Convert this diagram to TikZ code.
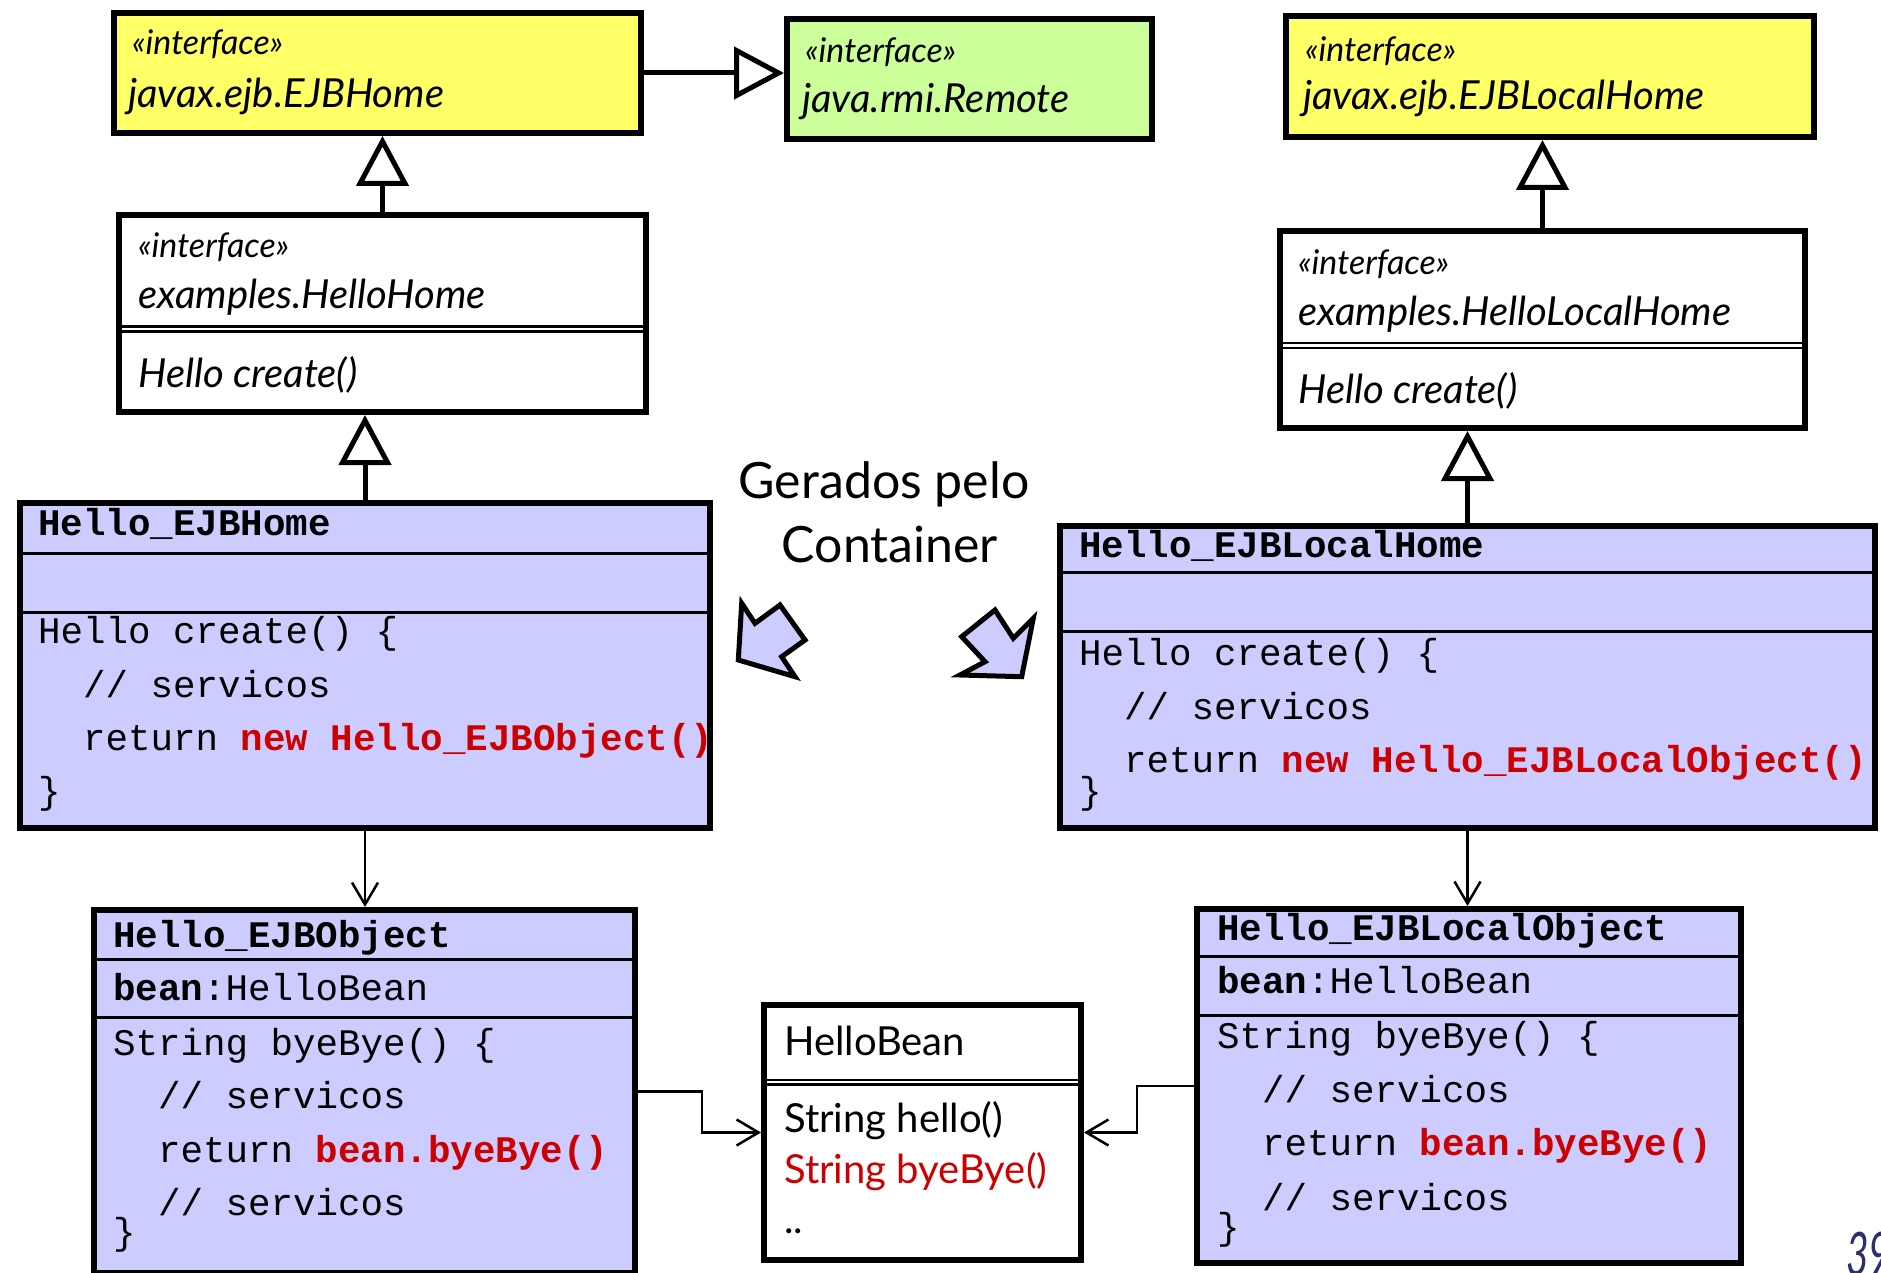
\documentclass[tikz,border=0pt]{standalone}
\usepackage{fontspec}
\usetikzlibrary{arrows.meta}
\newfontfamily\umlfont{Lato}
\newfontfamily\codefont{Liberation Mono}
\definecolor{ifyellow}{HTML}{FFFF66}
\definecolor{ifgreen}{HTML}{CCFF99}
\definecolor{genblue}{HTML}{CCCCFF}
\definecolor{codered}{HTML}{CC0000}
\definecolor{pagenum}{HTML}{2E2E6B}
\tikzset{
  umlbox/.style={draw, line width=6pt, inner sep=0pt, anchor=north west},
  sepline/.style={line width=3pt},
  dblline/.style={line width=2.5pt},
  stereotype/.style={font=\umlfont\itshape\fontsize{34}{40}\selectfont, anchor=base west, inner sep=0pt},
  clsname/.style={font=\umlfont\itshape\fontsize{40}{48}\selectfont, anchor=base west, inner sep=0pt},
  beantext/.style={font=\umlfont\fontsize{40}{48}\selectfont, anchor=base west, inner sep=0pt},
  codeline/.style={font=\codefont\fontsize{37.5}{45}\selectfont, anchor=base west, inner sep=0pt},
  genarrow/.style={line width=5pt, -{Triangle[fill=white, length=50pt, width=52pt]}},
  navarrow/.style={line width=2.5pt, -{Straight Barb[length=22pt, width=26pt]}},
  fatarrow/.style={draw, fill=genblue, line width=5pt, line join=miter},
}
\begin{document}
\begin{tikzpicture}[x=1pt, y=-1pt]
\useasboundingbox (0,0) rectangle (1881,1273);

% ---- interfaces of the EJB API ----
\node[umlbox, fill=ifyellow, minimum width=527pt, minimum height=120pt] (ejbhome) at (111,10) {};
\node[umlbox, fill=ifgreen, minimum width=365pt, minimum height=120pt] (remote) at (784,16) {};
\node[umlbox, fill=ifyellow, minimum width=528pt, minimum height=121pt] (ejblocalhome) at (1283,13) {};

% ---- application home interfaces ----
\node[umlbox, fill=white, minimum width=527pt, minimum height=197pt] (hellohome) at (116,212) {};
\draw[dblline] (hellohome.west |- 0,326.5) -- (hellohome.east |- 0,326.5);
\draw[dblline] (hellohome.west |- 0,331.5) -- (hellohome.east |- 0,331.5);
\node[umlbox, fill=white, minimum width=525pt, minimum height=197pt] (hellolocalhome) at (1277,228) {};
\draw[dblline] (hellolocalhome.west |- 0,343) -- (hellolocalhome.east |- 0,343);
\draw[dblline] (hellolocalhome.west |- 0,348) -- (hellolocalhome.east |- 0,348);

% ---- container generated classes ----
\node[umlbox, fill=genblue, minimum width=690pt, minimum height=325pt] (ejbhomeimpl) at (17,500) {};
\draw[sepline] (ejbhomeimpl.west |- 0,553) -- (ejbhomeimpl.east |- 0,553);
\draw[sepline] (ejbhomeimpl.west |- 0,612) -- (ejbhomeimpl.east |- 0,612);
\node[umlbox, fill=genblue, minimum width=815pt, minimum height=302pt] (ejblocalhomeimpl) at (1057,523) {};
\draw[sepline] (ejblocalhomeimpl.west |- 0,572) -- (ejblocalhomeimpl.east |- 0,572);
\draw[sepline] (ejblocalhomeimpl.west |- 0,631) -- (ejblocalhomeimpl.east |- 0,631);
\node[umlbox, fill=genblue, minimum width=541pt, minimum height=363pt] (ejbobj) at (91,907) {};
\draw[sepline] (ejbobj.west |- 0,959) -- (ejbobj.east |- 0,959);
\draw[sepline] (ejbobj.west |- 0,1017) -- (ejbobj.east |- 0,1017);
\node[umlbox, fill=genblue, minimum width=544pt, minimum height=354pt] (ejblocalobj) at (1194,906) {};
\draw[sepline] (ejblocalobj.west |- 0,956) -- (ejblocalobj.east |- 0,956);
\draw[sepline] (ejblocalobj.west |- 0,1015) -- (ejblocalobj.east |- 0,1015);

% ---- bean class ----
\node[umlbox, fill=white, minimum width=317pt, minimum height=255pt] (bean) at (761,1002) {};
\draw[dblline] (bean.west |- 0,1080) -- (bean.east |- 0,1080);
\draw[dblline] (bean.west |- 0,1084.5) -- (bean.east |- 0,1084.5);

% ---- generalizations ----
\draw[genarrow] (ejbhome.east) -- (ejbhome.east -| remote.west);
\draw[genarrow] (hellohome.north) -- (hellohome.north |- ejbhome.south);
\draw[genarrow] (hellolocalhome.north) -- (hellolocalhome.north |- ejblocalhome.south);
\draw[genarrow] (ejbhomeimpl.north) -- (ejbhomeimpl.north |- hellohome.south);
\draw[genarrow] (ejblocalhomeimpl.north) -- (ejblocalhomeimpl.north |- hellolocalhome.south);

% ---- navigations ----
\draw[navarrow] (ejbhomeimpl.south) -- (ejbhomeimpl.south |- ejbobj.north);
\draw[navarrow] (ejblocalhomeimpl.south) -- (ejblocalhomeimpl.south |- ejblocalobj.north);
\draw[navarrow] (ejbobj.east) -- ++(64,0) |- (bean.west);
\draw[navarrow] (ejblocalobj.west) -- ++(-57,0) |- (bean.east);

% ---- interface labels ----
\node[stereotype] (s1) at (132,55) {«interface»};
\node[clsname] (n1) at (128,108) {javax.ejb.EJBHome};
\node[stereotype] (s2) at (805,63) {«interface»};
\node[clsname] (n2) at (802,113) {java.rmi.Remote};
\node[stereotype] (s3) at (1305,62) {«interface»};
\node[clsname] (n3) at (1303,110) {javax.ejb.EJBLocalHome};
\node[stereotype] (s4) at (138,258) {«interface»};
\node[clsname] (n4) at (138,308) {examples.HelloHome};
\node[clsname] (m4) at (138,387) {Hello create()};
\node[stereotype] (s5) at (1298,275) {«interface»};
\node[clsname] (n5) at (1298,325) {examples.HelloLocalHome};
\node[clsname] (m5) at (1298,403) {Hello create()};

% ---- code of Hello_EJBHome ----
\node[codeline] (a0) at (38,535) {\bfseries Hello\_EJBHome};
\node[codeline] (a1) at (38,643) {Hello create() \{};
\node[codeline] (a2) at (83,697) {// servicos};
\node[codeline] (a3) at (83,750) {return \textcolor{codered}{\bfseries new Hello\_EJBObject()}};
\node[codeline] (a4) at (38,803) {\}};

% ---- code of Hello_EJBLocalHome ----
\node[codeline] (b0) at (1079,557) {\bfseries Hello\_EJBLocalHome};
\node[codeline] (b1) at (1079,665) {Hello create() \{};
\node[codeline] (b2) at (1124,719) {// servicos};
\node[codeline] (b3) at (1124,772) {return \textcolor{codered}{\bfseries new Hello\_EJBLocalObject()}};
\node[codeline] (b4) at (1079,803) {\}};

% ---- code of Hello_EJBObject ----
\node[codeline] (c0) at (113,947) {\bfseries Hello\_EJBObject};
\node[codeline] (c1) at (113,1000) {\textbf{bean}:HelloBean};
\node[codeline] (c2) at (113,1055) {String byeBye() \{};
\node[codeline] (c3) at (158,1108) {// servicos};
\node[codeline] (c4) at (158,1162) {return \textcolor{codered}{\bfseries bean.byeBye()}};
\node[codeline] (c5) at (158,1215) {// servicos};
\node[codeline] (c6) at (113,1244) {\}};

% ---- code of Hello_EJBLocalObject ----
\node[codeline] (d0) at (1217,940) {\bfseries Hello\_EJBLocalObject};
\node[codeline] (d1) at (1217,993) {\textbf{bean}:HelloBean};
\node[codeline] (d2) at (1217,1048) {String byeBye() \{};
\node[codeline] (d3) at (1262,1102) {// servicos};
\node[codeline] (d4) at (1262,1155) {return \textcolor{codered}{\bfseries bean.byeBye()}};
\node[codeline] (d5) at (1262,1210) {// servicos};
\node[codeline] (d6) at (1217,1239) {\}};

% ---- HelloBean ----
\node[beantext] (e0) at (784,1055) {HelloBean};
\node[beantext] (e1) at (784,1132) {String hello()};
\node[beantext, text=codered] (e2) at (784,1183) {String byeBye()};
\node[beantext] (e3) at (784,1233) {..};

% ---- caption and pointers ----
\node[font=\umlfont\fontsize{50}{60}\selectfont, anchor=base, inner sep=0pt] (cap1) at (884,498) {Gerados pelo};
\node[font=\umlfont\fontsize{50}{60}\selectfont, anchor=base, inner sep=0pt] (cap2) at (890,562) {Container};
\draw[fatarrow] (741.7,603.3) -- (755,623.3) -- (780,605) -- (805,640) -- (781.7,656.7) -- (795,676.7) -- (738.3,660) -- cycle;
\draw[fatarrow] (1021.7,676.7) -- (960,675) -- (985,661.7) -- (961.7,636.7) -- (995,610) -- (1013.3,638.3) -- (1033.3,618.3) -- cycle;

% ---- page number ----
\node[font=\umlfont\itshape\fontsize{60}{60}\selectfont, text=pagenum, anchor=base west, inner sep=0pt] (pg) at (1846,1275) {\scalebox{0.65}[1]{39}};
\end{tikzpicture}
\end{document}
